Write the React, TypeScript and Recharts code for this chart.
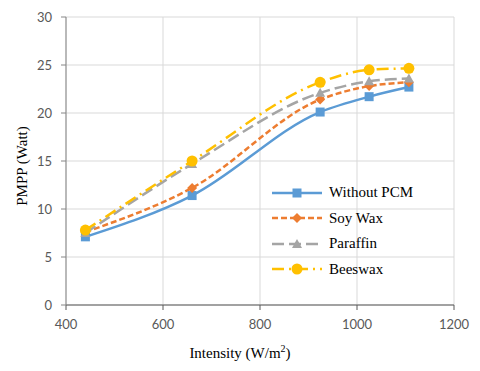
import React from "react";
import { LineChart, Line, XAxis, YAxis, CartesianGrid, Legend, Label } from "recharts";

const intensity = [440, 660, 924, 1025, 1107];
const withoutPcm = [7.1, 11.4, 20.1, 21.7, 22.7];
const soyWax = [7.6, 12.2, 21.4, 22.8, 23.2];
const paraffin = [7.5, 14.7, 22.1, 23.3, 23.6];
const beeswax = [7.8, 15.0, 23.2, 24.5, 24.65];
const xTicks = [400, 600, 800, 1000, 1200];
const yTicks = [0, 5, 10, 15, 20, 25, 30];

const serifFont = "Liberation Serif, DejaVu Serif, Times New Roman, serif";

const series = [
  { key: "without", name: "Without PCM", color: "#5B9BD5", dash: undefined, marker: "square" },
  { key: "soy", name: "Soy Wax", color: "#ED7D31", dash: "6 3", marker: "diamond" },
  { key: "paraffin", name: "Paraffin", color: "#A5A5A5", dash: "12 5", marker: "triangle" },
  { key: "beeswax", name: "Beeswax", color: "#FFC000", dash: "12 5 2 5", marker: "circle" },
];

const data = intensity.map((x, i) => ({
  x,
  without: withoutPcm[i],
  soy: soyWax[i],
  paraffin: paraffin[i],
  beeswax: beeswax[i],
}));

function Marker({ type, cx, cy, color }: { type: string; cx: number; cy: number; color: string }) {
  if (type === "square") return <rect x={cx - 4.5} y={cy - 4.5} width={9} height={9} fill={color} />;
  if (type === "diamond")
    return <polygon points={`${cx},${cy - 5} ${cx + 5},${cy} ${cx},${cy + 5} ${cx - 5},${cy}`} fill={color} />;
  if (type === "triangle")
    return <polygon points={`${cx},${cy - 5} ${cx + 5},${cy + 4} ${cx - 5},${cy + 4}`} fill={color} />;
  return <circle cx={cx} cy={cy} r={5.5} fill={color} />;
}

const makeDot = (type: string, color: string) => (props: any) => {
  if (props.cx == null || props.cy == null) return <g key={props.index} />;
  return (
    <g key={`${type}-${props.index}`}>
      <Marker type={type} cx={props.cx} cy={props.cy} color={color} />
    </g>
  );
};

function LegendBox() {
  return (
    <div style={{ fontFamily: serifFont, fontSize: 15, color: "#000" }}>
      {series.map((s) => (
        <div key={s.key} style={{ display: "flex", alignItems: "center", height: 25.5 }}>
          <svg width={52} height={14} style={{ marginRight: 6 }}>
            <line x1={1} y1={7} x2={51} y2={7} stroke={s.color} strokeWidth={2.5} strokeDasharray={s.dash} />
            <Marker type={s.marker} cx={26} cy={7} color={s.color} />
          </svg>
          <span>{s.name}</span>
        </div>
      ))}
    </div>
  );
}

const tickStyle = { fill: "#595959", fontSize: 13, fontFamily: "Lato, 'Open Sans', sans-serif" };

export default function App() {
  return (
    <div style={{ position: "absolute", left: 0, top: 0, background: "#fff" }}>
      <LineChart width={480} height={371} data={data} margin={{ top: 17, right: 26, left: 0, bottom: 0 }}>
        <CartesianGrid stroke="#D9D9D9" strokeWidth={1} />
        <XAxis
          dataKey="x"
          type="number"
          domain={[400, 1200]}
          ticks={xTicks}
          height={66}
          tick={tickStyle}
          tickSize={5}
          tickMargin={10}
          axisLine={{ stroke: "#595959" }}
          tickLine={{ stroke: "#595959" }}
        >
          <Label
            content={() => (
              <text x={240} y={358} textAnchor="middle" style={{ fontFamily: serifFont, fontSize: 15 }} fill="#000">
                Intensity (W/m<tspan style={{ fontSize: 10 }} dy={-6}>2</tspan>
                <tspan dy={6}>)</tspan>
              </text>
            )}
          />
        </XAxis>
        <YAxis
          type="number"
          domain={[0, 30]}
          ticks={yTicks}
          width={66}
          tick={tickStyle}
          tickSize={5}
          tickMargin={9}
          axisLine={{ stroke: "#868686" }}
          tickLine={{ stroke: "#868686" }}
        >
          <Label
            content={() => (
              <text
                x={27}
                y={166}
                textAnchor="middle"
                transform="rotate(-90 27 166)"
                style={{ fontFamily: serifFont, fontSize: 15 }}
                fill="#000"
              >
                PMPP (Watt)
              </text>
            )}
          />
        </YAxis>
        <Legend
          layout="horizontal"
          verticalAlign="middle"
          content={() => <LegendBox />}
          wrapperStyle={{ left: 271, top: 180, width: 200, height: "auto" }}
        />
        {series.map((s) => (
          <Line
            key={s.key}
            type="monotone"
            dataKey={s.key}
            name={s.name}
            stroke={s.color}
            strokeWidth={2.5}
            strokeDasharray={s.dash}
            dot={makeDot(s.marker, s.color)}
            activeDot={false}
            isAnimationActive={false}
          />
        ))}
      </LineChart>
    </div>
  );
}
